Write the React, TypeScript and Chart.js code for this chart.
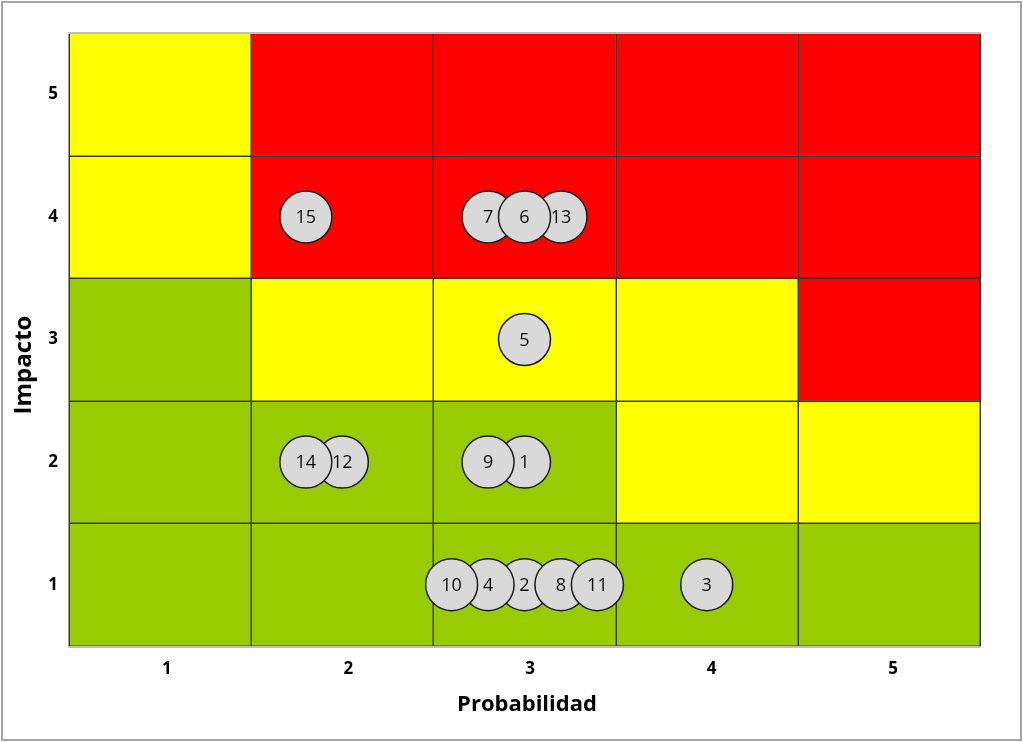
import React, { useEffect, useRef } from "react";
import { Chart, registerables } from "chart.js";

Chart.register(...registerables);

// Axis tick labels
const probabilidadTicks = ["1", "2", "3", "4", "5"];
const impactoTicks = ["1", "2", "3", "4", "5"];

// Risk level per cell: rows = impacto 1..5 (bottom to top), columns = probabilidad 1..5
const nivelImpacto1 = ["bajo", "bajo", "bajo", "bajo", "bajo"];
const nivelImpacto2 = ["bajo", "bajo", "bajo", "medio", "medio"];
const nivelImpacto3 = ["bajo", "medio", "medio", "medio", "alto"];
const nivelImpacto4 = ["medio", "alto", "alto", "alto", "alto"];
const nivelImpacto5 = ["medio", "alto", "alto", "alto", "alto"];
const nivelesPorImpacto = [nivelImpacto1, nivelImpacto2, nivelImpacto3, nivelImpacto4, nivelImpacto5];

// Risks (listed in drawing order)
const riesgoIds = [1, 2, 3, 5, 7, 13, 6, 12, 14, 9, 4, 10, 8, 11, 15];
const riesgoProbabilidad = [3.0, 3.0, 4.0, 3.0, 2.8, 3.2, 3.0, 2.0, 1.8, 2.8, 2.8, 2.6, 3.2, 3.4, 1.8];
const riesgoImpacto = [2, 1, 1, 3, 4, 4, 4, 2, 2, 2, 1, 1, 1, 1, 4];

const COLORS: Record<string, string> = {
  bajo: "#99cc00",
  medio: "#ffff00",
  alto: "#ff0000",
};

const FONT = "'Open Sans', 'Noto Sans', 'DejaVu Sans', sans-serif";

const matrixPlugin = {
  id: "matrix",
  beforeDatasetsDraw(chart: any) {
    const { ctx, chartArea } = chart;
    const xs = chart.scales.x;
    const ys = chart.scales.y;
    ctx.save();
    nivelesPorImpacto.forEach((row, ri) => {
      row.forEach((nivel, ci) => {
        const x0 = xs.getPixelForValue(ci + 0.5);
        const x1 = xs.getPixelForValue(ci + 1.5);
        const y0 = ys.getPixelForValue(ri + 1.5);
        const y1 = ys.getPixelForValue(ri + 0.5);
        ctx.fillStyle = COLORS[nivel];
        ctx.fillRect(x0, y0, x1 - x0, y1 - y0);
      });
    });
    ctx.strokeStyle = "#383838";
    ctx.lineWidth = 1.5;
    ctx.beginPath();
    for (let i = 0; i <= probabilidadTicks.length; i++) {
      const x = Math.round(xs.getPixelForValue(i + 0.5)) + 0.25;
      ctx.moveTo(x, chartArea.top);
      ctx.lineTo(x, chartArea.bottom);
    }
    for (let j = 0; j <= impactoTicks.length; j++) {
      const y = Math.round(ys.getPixelForValue(j + 0.5)) + 0.25;
      ctx.moveTo(chartArea.left, y);
      ctx.lineTo(chartArea.right, y);
    }
    ctx.stroke();
    // light grey top and bottom borders
    ctx.strokeStyle = "#bfbfbf";
    ctx.lineWidth = 2;
    ctx.beginPath();
    ctx.moveTo(chartArea.left - 1, Math.round(chartArea.top));
    ctx.lineTo(chartArea.right + 1, Math.round(chartArea.top));
    ctx.moveTo(chartArea.left - 1, Math.round(chartArea.bottom) + 1);
    ctx.lineTo(chartArea.right + 1, Math.round(chartArea.bottom) + 1);
    ctx.stroke();
    ctx.restore();
  },
  afterDatasetsDraw(chart: any) {
    const { ctx } = chart;
    const meta = chart.getDatasetMeta(0);
    ctx.save();
    ctx.fillStyle = "#0d0d0d";
    ctx.font = `18px ${FONT}`;
    ctx.textAlign = "center";
    ctx.textBaseline = "middle";
    meta.data.forEach((pt: any, i: number) => {
      ctx.fillText(String(riesgoIds[i]), pt.x, pt.y + 1);
    });
    ctx.restore();
  },
  afterDraw(chart: any) {
    const { ctx } = chart;
    ctx.save();
    ctx.fillStyle = "#000";
    ctx.textAlign = "center";
    ctx.textBaseline = "middle";
    ctx.font = `bold 22px ${FONT}`;
    ctx.fillText("Probabilidad", 527, 705);
    ctx.translate(24, 365);
    ctx.rotate(-Math.PI / 2);
    ctx.font = `bold 24px ${FONT}`;
    ctx.fillText("Impacto", 0, 0);
    ctx.restore();
  },
};

export default function App() {
  const canvasRef = useRef<HTMLCanvasElement | null>(null);

  useEffect(() => {
    if (!canvasRef.current) return;
    const data = riesgoIds.map((_, i) => ({ x: riesgoProbabilidad[i], y: riesgoImpacto[i] }));
    const chart = new Chart(canvasRef.current, {
      type: "bubble",
      data: {
        datasets: [
          {
            label: "Riesgos",
            data,
            radius: 26,
            backgroundColor: "#d9d9d9",
            borderColor: "#1a1a1a",
            borderWidth: 1.5,
            xAxisID: "x",
            yAxisID: "y",
          } as any,
        ],
      },
      options: {
        responsive: false,
        animation: false,
        events: [],
        layout: { padding: { top: 33, right: 43, left: 0, bottom: 0 } },
        plugins: { legend: { display: false }, tooltip: { enabled: false }, title: { display: false } },
        clip: false as any,
        scales: {
          x: {
            type: "linear",
            display: false,
            min: 0.5,
            max: 0.5 + probabilidadTicks.length,
          },
          xt: {
            type: "linear",
            position: "bottom",
            min: 0.4614,
            max: 5.478,
            grid: { display: false, drawTicks: false },
            border: { display: false },
            afterBuildTicks: (scale: any) => {
              scale.ticks = probabilidadTicks.map((_, i) => ({ value: i + 1 }));
            },
            afterFit: (scale: any) => {
              scale.height = 96;
            },
            ticks: {
              padding: 13,
              maxRotation: 0,
              autoSkip: false,
              color: "#000",
              font: { family: FONT, size: 17, weight: "bold" },
              callback: (v: any) => probabilidadTicks[Math.round(Number(v)) - 1] ?? "",
            },
          },
          y: {
            type: "linear",
            min: 0.5,
            max: 0.5 + impactoTicks.length,
            grid: { display: false, drawTicks: false },
            border: { display: false },
            afterBuildTicks: (scale: any) => {
              scale.ticks = impactoTicks.map((_, i) => ({ value: i + 1 }));
            },
            afterFit: (scale: any) => {
              scale.width = 69;
            },
            ticks: {
              padding: 11,
              autoSkip: false,
              color: "#000",
              font: { family: FONT, size: 17, weight: "bold" },
              callback: (v: any) => impactoTicks[Math.round(Number(v)) - 1] ?? "",
            },
          },
        } as any,
      },
      plugins: [matrixPlugin],
    });
    return () => chart.destroy();
  }, []);

  return (
    <div style={{ position: "fixed", left: 0, top: 0, width: 1023, height: 742, background: "#fff" }}>
      <canvas ref={canvasRef} width={1023} height={742} style={{ position: "absolute", left: 0, top: 0 }} />
      <div
        style={{
          position: "absolute",
          left: 1,
          top: 1,
          width: 1021,
          height: 740,
          boxSizing: "border-box",
          border: "2px solid #a6a6a6",
          pointerEvents: "none",
        }}
      />
    </div>
  );
}
